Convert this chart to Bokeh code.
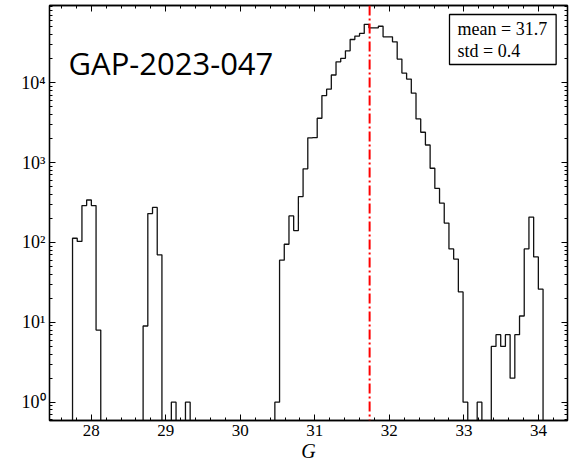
import numpy as np
from bokeh.plotting import figure
from bokeh.models import (Range1d, LinearAxis, LogAxis, Span, Label, FixedTicker,
                          SingleIntervalTicker, CustomJSTickFormatter)
from bokeh.embed import file_html
from bokeh.resources import INLINE

# ---- data ----
g_lo = 27.749          # left edge of first bin
g_hi = 34.062          # right edge of last bin
counts = [
    113, 103, 290, 340, 290, 8, 0, 0, 0, 0,
    0, 0, 0, 0, 0, 9, 230, 275, 70, 0,
    0, 1, 0, 0, 1, 0, 0, 0, 0, 0,
    0, 0, 0, 0, 0, 0, 0, 0, 0, 0,
    0, 0, 0, 1, 60, 95, 215, 141, 375, 835,
    2040, 2050, 3590, 6900, 8300, 12500, 18300, 20200, 25100, 34800,
    38400, 41400, 53800, 48700, 48700, 51000, 37600, 37600, 32500, 19800,
    13200, 11100, 7400, 3520, 2400, 1660, 850, 475, 310, 175,
    83, 62, 24, 1, 0, 0, 1, 0, 0, 5,
    7, 5, 7, 2, 7, 12, 83, 208, 66, 26,
]
mean_g = 31.735
stats_text = ["mean = 31.7", "std = 0.4"]
title_text = "GAP-2023-047"
x_label = "G"
y_ticks = [1, 10, 100, 1000, 10000]
y_tick_labels = ["10\u2070", "10\u00b9", "10\u00b2", "10\u00b3", "10\u2074"]
x_lim = (27.44, 34.39)
y_lim = (0.59, 92700)

# ---- step outline ----
n = len(counts)
edges = np.linspace(g_lo, g_hi, n + 1)
floor = 1e-2
c = np.array(counts, dtype=float)
c_plot = np.where(c > 0, c, floor)
xs = np.repeat(edges, 2)
ys = np.concatenate([[floor], np.repeat(c_plot, 2), [floor]])

p = figure(width=571, height=464, y_axis_type="log",
           x_range=Range1d(*x_lim), y_range=Range1d(*y_lim),
           output_backend="svg", toolbar_location=None,
           min_border_left=49, min_border_right=4, min_border_top=5, min_border_bottom=43)
p.grid.visible = False
p.outline_line_color = "black"
p.outline_line_width = 1.3
p.background_fill_color = "white"
p.border_fill_color = "white"

p.line(xs, ys, line_color="#111111", line_width=1.3)

p.add_layout(Span(location=mean_g, dimension="height", line_color="#ff0000",
                  line_width=2, line_dash="10 3 2 3"))

serif = "Liberation Serif"
xticker = SingleIntervalTicker(interval=1, num_minor_ticks=5)
minor_y = [m * 10.0 ** k for k in range(-1, 5) for m in range(2, 10)]
yticker = FixedTicker(ticks=y_ticks, minor_ticks=minor_y)

def style(ax):
    ax.axis_line_color = "black"
    ax.axis_line_width = 1.3
    ax.major_tick_in = 6
    ax.major_tick_out = 0
    ax.minor_tick_in = 3
    ax.minor_tick_out = 0
    ax.major_tick_line_color = "black"
    ax.minor_tick_line_color = "black"
    ax.major_label_text_font = serif
    ax.major_label_text_font_size = "17px"
    ax.major_label_text_color = "black"

xa = p.xaxis[0]
xa.ticker = xticker
style(xa)
xa.major_label_standoff = 4
xa.axis_label = x_label
xa.axis_label_text_font = serif
xa.axis_label_text_font_style = "italic"
xa.axis_label_text_font_size = "20px"
xa.axis_label_standoff = 1
xa.axis_label_text_color = "black"

ya = p.yaxis[0]
ya.ticker = yticker
style(ya)
ya.major_label_text_font_size = "18px"
ya.major_label_standoff = 4
ya.major_label_overrides = dict(zip(y_ticks, y_tick_labels))

blank = CustomJSTickFormatter(code="return ''")
top = LinearAxis(ticker=xticker, formatter=blank)
style(top)
top.major_label_text_font_size = "0px"
top.major_label_standoff = 0
p.add_layout(top, "above")
right = LogAxis(ticker=yticker, formatter=blank)
style(right)
right.major_label_text_font_size = "0px"
right.major_label_standoff = 0
p.add_layout(right, "right")

p.add_layout(Label(x=19, y=358, x_units="screen", y_units="screen",
                   text=title_text, text_font="Open Sans", text_font_size="31px",
                   text_color="black", text_align="left", text_baseline="alphabetic"))

p.add_layout(Label(x=400, y=406, x_units="screen", y_units="screen",
                   text="\n".join(stats_text), text_font=serif, text_font_size="18px",
                   text_color="black", text_align="left", text_baseline="top",
                   text_line_height=1.1,
                   border_line_color="black", border_line_width=1.3,
                   background_fill_color="white",
                   padding=dict(left=8, right=9, top=4, bottom=4)))

open("out.html", "w").write(file_html(p, INLINE))
